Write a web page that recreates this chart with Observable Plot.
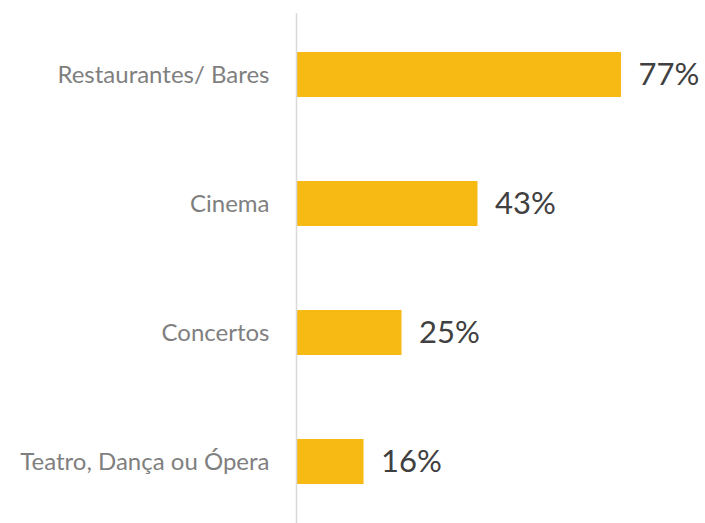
<!DOCTYPE html>
<html>
<head>
<meta charset="utf-8">
<script src="https://cdn.jsdelivr.net/npm/d3@7"></script>
<script src="https://cdn.jsdelivr.net/npm/@observablehq/plot@0.6"></script>
<style>
  html, body { margin: 0; padding: 0; background: #fff; }
  #chart svg { display: block; }
</style>
</head>
<body>
<div id="chart"></div>
<script>
const categories = ["Restaurantes/ Bares", "Cinema", "Concertos", "Teatro, Dança ou Ópera"];
const values = [77, 43, 25, 16];
const valueLabels = ["77%", "43%", "25%", "16%"];

const data = categories.map((c, i) => ({category: c, value: values[i], label: valueLabels[i]}));

const chart = Plot.plot({
  width: 705,
  height: 523,
  marginLeft: 296,
  marginRight: 3,
  marginTop: 13,
  marginBottom: 0,
  style: {fontFamily: "Lato, 'Open Sans', sans-serif", background: "#fff"},
  x: {domain: [0, 96.2], axis: null},
  y: {domain: categories, paddingInner: 0.65, paddingOuter: 0.3, label: null},
  marks: [
    Plot.barX(data, {y: "category", x: "value", fill: "#F7B913"}),
    Plot.ruleX([0], {stroke: "#d9d9d9", strokeWidth: 1.5}),
    Plot.axisY({tickSize: 0, tickPadding: 27, fontSize: 24, color: "#7f7f7f", label: null}),
    Plot.text(data, {y: "category", x: "value", text: "label", textAnchor: "start", dx: 17, fontSize: 31, fill: "#404040"})
  ]
});
document.getElementById("chart").append(chart);
</script>
</body>
</html>
